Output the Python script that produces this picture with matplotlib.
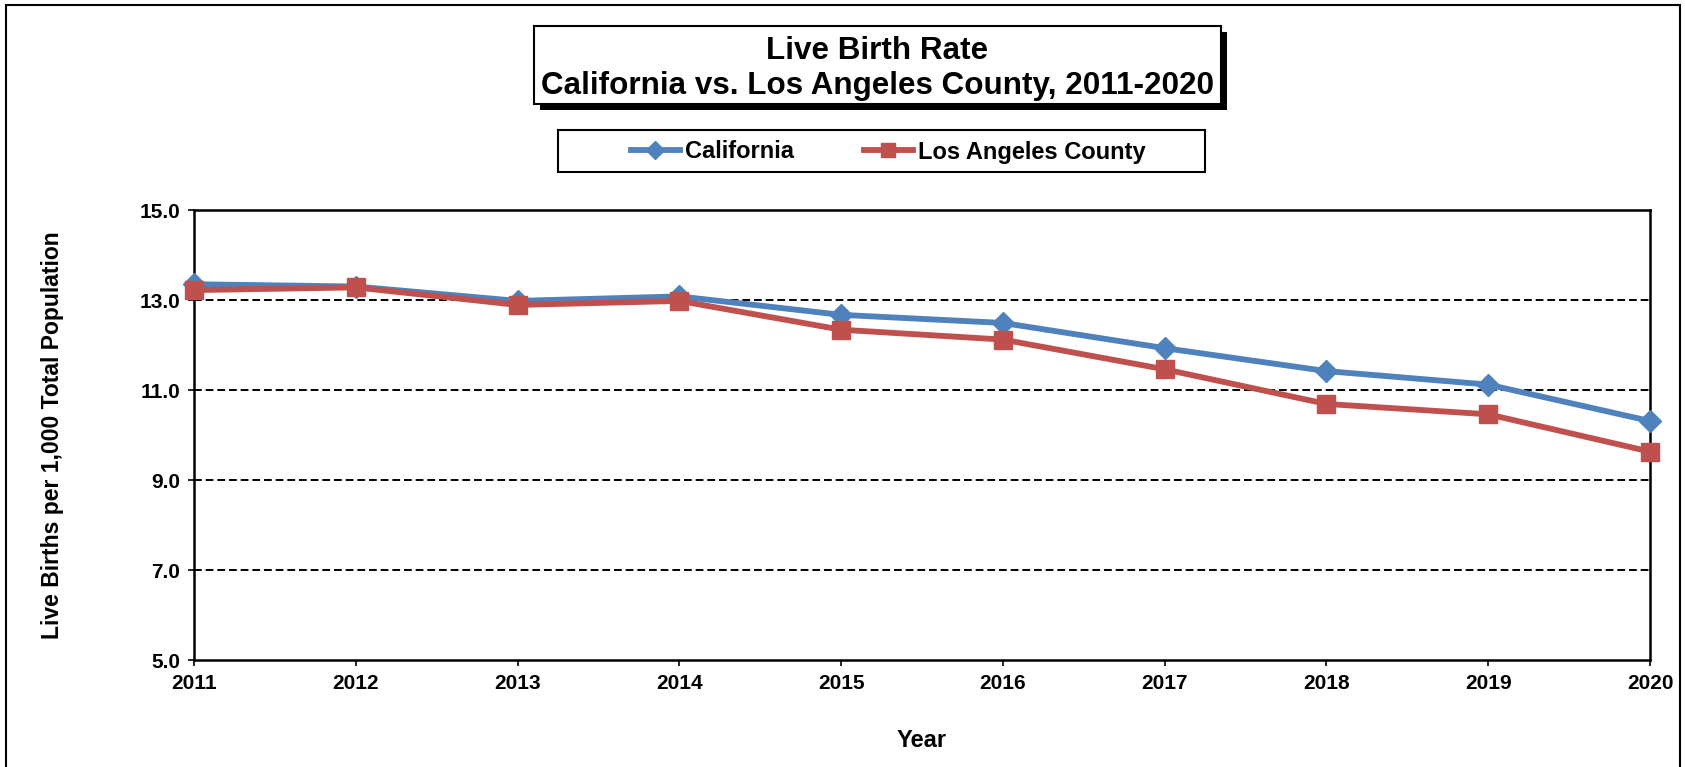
import matplotlib
matplotlib.use("Agg")
import matplotlib.pyplot as plt
from matplotlib.patches import Rectangle
from matplotlib.ticker import FormatStrFormatter

plt.rcParams['font.family'] = ['Liberation Sans', 'DejaVu Sans']
plt.rcParams['font.weight'] = 'bold'

# --- Data ---
years = [2011, 2012, 2013, 2014, 2015, 2016, 2017, 2018, 2019, 2020]
california = [13.35, 13.30, 12.98, 13.08, 12.67, 12.49, 11.93, 11.42, 11.12, 10.31]
los_angeles = [13.22, 13.28, 12.89, 12.98, 12.34, 12.12, 11.46, 10.69, 10.46, 9.63]
y_ticks = [5.0, 7.0, 9.0, 11.0, 13.0, 15.0]

title_lines = ["Live Birth Rate", "California vs. Los Angeles County, 2011-2020"]
series_names = ["California", "Los Angeles County"]

W, H = 1685, 767
fig = plt.figure(figsize=(W / 100, H / 100), dpi=100)


def px_box(x0, y0, x1, y1):
    """pixel box (top-left origin) -> figure fraction (x, y, w, h)"""
    return x0 / W, 1 - y1 / H, (x1 - x0) / W, (y1 - y0) / H


# outer chart border
fx, fy, fw, fh = px_box(6, 5, 1680, 790)
fig.patches.append(Rectangle((fx, fy), fw, fh, transform=fig.transFigure,
                             fill=False, edgecolor='black', lw=1.5))

ax = fig.add_axes(px_box(194, 210, 1650, 660))
ax.plot(years, california, color='#4F81BD', lw=4.2, marker='D', markersize=11,
        label=series_names[0], clip_on=False, zorder=3)
ax.plot(years, los_angeles, color='#C0504D', lw=4.2, marker='s', markersize=13,
        label=series_names[1], clip_on=False, zorder=4)

ax.set_xlim(years[0], years[-1])
ax.set_xticks(years)
ax.set_ylim(5, 15)
ax.set_yticks(y_ticks)
ax.yaxis.set_major_formatter(FormatStrFormatter('%.1f'))
for y in y_ticks[1:-1]:
    ax.axhline(y, color='black', lw=1.4, ls=(0, (4, 2)), zorder=1)
for s in ax.spines.values():
    s.set_linewidth(1.8)
ax.tick_params(axis='both', direction='out', length=4, width=1.2, labelsize=15)
ax.tick_params(axis='y', pad=6)
ax.tick_params(axis='x', pad=6)
ax.set_ylabel("Live Births per 1,000 Total Population", fontsize=16.5,
              fontweight='bold')
ax.yaxis.set_label_coords((64 - 194) / (1650 - 194), 0.5)
ax.set_xlabel("Year", fontsize=17, fontweight='bold')
ax.xaxis.set_label_coords(0.5, -(729 - 660) / (660 - 210))

# title box with drop shadow
sx, sy, sw, sh = px_box(540, 32, 1227, 110)
fig.patches.append(Rectangle((sx, sy), sw, sh, transform=fig.transFigure,
                             facecolor='black', edgecolor='black', lw=0))
tx, ty, tw, th = px_box(534, 26, 1221, 104)
fig.patches.append(Rectangle((tx, ty), tw, th, transform=fig.transFigure,
                             facecolor='white', edgecolor='black', lw=1.5))
fig.text((534 + 1221) / 2 / W, 1 - 51 / H, title_lines[0], ha='center',
         va='center', fontsize=22.6, fontweight='bold')
fig.text((534 + 1221) / 2 / W, 1 - 86 / H, title_lines[1], ha='center',
         va='center', fontsize=22.6, fontweight='bold')

# legend box
lx, ly, lw_, lh = px_box(558, 130, 1205, 172)
fig.patches.append(Rectangle((lx, ly), lw_, lh, transform=fig.transFigure,
                             facecolor='white', edgecolor='black', lw=1.5))
handles, labels = ax.get_legend_handles_labels()
fig.legend(handles, labels, loc='center', bbox_to_anchor=(888 / W, 1 - 152 / H),
           ncol=2, frameon=False, prop={'size': 17, 'weight': 'bold'},
           handlelength=2.1, handletextpad=0.2, columnspacing=2.95,
           markerscale=0.8)

fig.savefig("out.png", dpi=100)
